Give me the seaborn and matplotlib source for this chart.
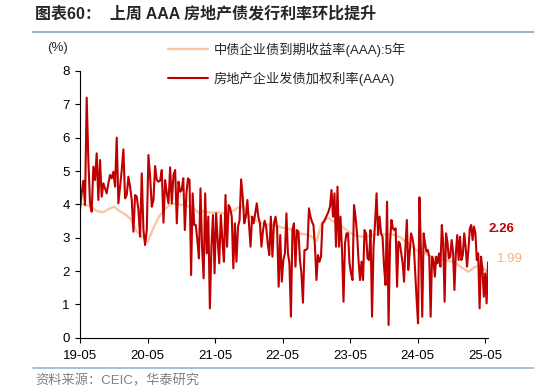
import pandas as pd
import numpy as np
import seaborn as sns
import matplotlib.pyplot as plt
import matplotlib.dates as mdates
from matplotlib.lines import Line2D

# weekly weighted issuance rate of AAA property bonds in four stretches
red_2019_2020 = [3.83, 4.33, 4.71, 3.98, 7.20, 5.33, 4.03, 3.78, 5.13, 4.73, 5.53, 4.13, 5.33, 4.23,
                 4.63, 4.48, 4.33, 4.63, 4.88, 4.78, 4.98, 4.53, 6.00, 4.03, 4.53, 5.03, 5.65, 4.18,
                 4.28, 4.83, 4.53, 4.13, 3.18, 4.28, 4.23, 3.83, 3.03, 4.93, 3.23, 2.78, 3.23, 5.48,
                 4.83, 3.93, 4.13, 5.15, 4.73, 4.68, 4.71, 5.03, 3.45, 4.73, 4.33, 4.03, 5.11, 4.03,
                 4.88, 5.03, 3.43, 4.68, 4.53]
red_2020_2022 = [4.23, 4.43, 4.78, 3.23, 4.33, 4.78, 4.73, 1.88, 4.33, 3.38, 3.38, 2.93, 2.38, 4.48,
                 2.73, 1.78, 4.33, 2.53, 3.63, 0.88, 2.73, 3.68, 1.93, 3.73, 2.93, 2.23, 3.68, 2.93,
                 2.28, 4.28, 2.73, 3.98, 3.88, 3.63, 2.08, 3.43, 2.28, 3.33, 3.53, 4.75, 4.23, 3.43,
                 3.63, 4.13, 3.43, 2.73, 3.63, 3.43, 3.73, 4.03, 3.63, 3.43, 2.73, 3.23, 3.51, 3.33,
                 2.83, 2.48, 3.63, 2.43, 3.43, 3.63, 3.28, 1.53, 3.08, 1.68, 2.33, 2.53]
red_2022_2023 = [2.53, 3.73, 2.53, 2.23, 0.63, 3.23, 3.43, 2.13, 3.23, 3.18, 2.33, 1.93, 1.05, 2.63,
                 2.63, 2.68, 3.88, 3.63, 3.48, 3.38, 2.73, 1.73, 2.48, 2.28, 2.43, 3.43, 3.48, 3.58,
                 3.68, 3.78, 3.93, 4.43, 3.63, 4.33, 2.73, 4.53, 2.73, 3.63, 2.63, 1.08, 2.83, 3.13,
                 3.13, 2.23, 1.93, 1.73, 3.98, 3.63, 3.13, 2.33, 1.73, 2.28, 1.73, 3.23, 3.13, 2.38,
                 2.33, 3.23, 0.63, 2.73, 3.43, 4.33, 3.08, 3.63, 3.13, 3.03, 2.13, 1.58, 4.08, 0.38,
                 2.33]
red_2023_2025 = [3.43, 3.53, 3.28, 3.23, 3.28, 1.53, 2.88, 2.83, 2.53, 2.23, 1.68, 2.73, 3.53, 2.03,
                 2.53, 3.13, 2.98, 2.73, 1.93, 1.13, 0.43, 4.21, 2.73, 0.63, 3.13, 2.83, 2.58, 2.63,
                 2.43, 0.63, 2.43, 2.33, 1.83, 2.43, 2.23, 2.53, 2.13, 3.38, 2.83, 1.08, 3.13, 2.88,
                 2.38, 2.43, 2.93, 2.58, 1.43, 2.53, 3.08, 2.33, 3.03, 2.33, 2.48, 3.13, 2.73, 2.13,
                 2.63, 3.28, 3.38, 2.93, 3.33, 3.13, 2.33, 2.53, 0.88, 2.43, 2.08, 1.23, 1.93, 1.03,
                 2.26]
red_bounds = ["2019-05-01", "2020-10-24", "2022-05-14", "2023-12-04", "2025-05-17"]

# ChinaBond AAA 5y enterprise bond yield, monthly readings plus the last week
orange_vals = [4.03, 3.98, 3.92, 3.80, 3.76, 3.85, 3.93, 3.80, 3.70, 3.55, 3.20, 3.03,
               2.88, 3.28, 3.63, 3.85, 4.00, 4.03, 3.98, 3.95, 3.90, 3.75, 3.80, 3.75,
               3.76, 3.75, 3.70, 3.78, 3.90, 3.95, 3.65, 3.55, 3.45, 3.40, 3.38, 3.35,
               3.30, 3.28, 3.22, 3.13, 3.10, 3.05, 2.90, 3.45, 3.60, 3.48, 3.40, 3.28,
               3.15, 3.07, 3.03, 3.04, 3.07, 3.12, 3.10, 3.10, 3.08, 3.00, 2.86, 2.73,
               2.60, 2.55, 2.47, 2.40, 2.35, 2.33, 2.28, 2.20, 2.08, 1.98, 2.10, 2.18,
               2.03, 1.99]
orange_last_date = "2025-05-17"

labels = ["中债企业债到期收益率(AAA):5年", "房地产企业发债加权利率(AAA)"]
title = "图表60：  上周 AAA 房地产债发行利率环比提升"
source = "资料来源：CEIC，华泰研究"

RED = "#C00000"
ORANGE = "#F8C6A2"
ORANGE_TXT = "#F4B183"
RULE = "#9DB3CC"

# build frames
parts = []
segs = [red_2019_2020, red_2020_2022, red_2022_2023, red_2023_2025]
for seg, a, b in zip(segs, red_bounds[:-1], red_bounds[1:]):
    parts.append(pd.DataFrame({"date": pd.date_range(a, b, periods=len(seg)), "rate": seg}))
red = pd.concat(parts, ignore_index=True)

o_dates = list(pd.date_range("2019-05-01", periods=len(orange_vals) - 1, freq="MS")) + [pd.Timestamp(orange_last_date)]
orange = pd.DataFrame({"date": o_dates, "rate": orange_vals})

sns.set_style("ticks")
plt.rcParams['font.family'] = ['Liberation Sans', 'Noto Sans CJK SC']
plt.rcParams['axes.unicode_minus'] = False

fig = plt.figure(figsize=(5.34, 3.92), dpi=100)
ax = fig.add_axes([80 / 534, 1 - 337.7 / 392, 408 / 534, 266.7 / 392])

sns.lineplot(data=orange, x="date", y="rate", color=ORANGE, lw=1.7, label=labels[0], ax=ax)
sns.lineplot(data=red, x="date", y="rate", color=RED, lw=1.5, label=labels[1], ax=ax)

ax.set_ylim(0, 8)
ax.set_xlim(pd.Timestamp(red_bounds[0]), pd.Timestamp(red_bounds[-1]))
ax.set_xlabel("")
ax.set_ylabel("")
ax.xaxis.set_major_locator(mdates.YearLocator(base=1, month=5, day=1))
ax.xaxis.set_major_formatter(mdates.DateFormatter("%y-%m"))
ax.set_yticks(range(0, 9))
ax.tick_params(axis="both", labelsize=9.5, length=3.5, width=0.8, color="black", labelcolor="black")
ax.tick_params(axis="y", pad=4)
ax.tick_params(axis="x", pad=5)
for s in ["top", "right"]:
    ax.spines[s].set_visible(False)
for s in ["left", "bottom"]:
    ax.spines[s].set_color("black")
    ax.spines[s].set_linewidth(0.8)

ax.legend(loc="upper left", bbox_to_anchor=(168 / 534, 1 - 42 / 392), bbox_transform=fig.transFigure,
          frameon=False, fontsize=9.5, handlelength=3.0, handletextpad=0.45, labelspacing=1.1,
          borderpad=0, borderaxespad=0)

# end labels
ax.annotate(f"{red['rate'].iloc[-1]:.2f}", (red["date"].iloc[-1], red["rate"].iloc[-1]),
            xytext=(0, 33), textcoords="offset pixels", color=RED, fontsize=9.5,
            fontweight="bold", va="center", ha="left")
ax.annotate(f"{orange['rate'].iloc[-1]:.2f}", (orange["date"].iloc[-1], orange["rate"].iloc[-1]),
            xytext=(9, 12), textcoords="offset pixels", color=ORANGE_TXT, fontsize=9.5,
            va="center", ha="left")

fig.text(57 / 534, 1 - 48 / 392, "(%)", fontsize=9.5, ha="center", va="center")
fig.text(35 / 534, 1 - 14 / 392, title, fontsize=11.5, fontweight="bold", va="center", ha="left")
fig.add_artist(Line2D([33 / 534, 1], [1 - 32 / 392] * 2, color=RULE, lw=1.5))
fig.add_artist(Line2D([33 / 534, 1], [1 - 368 / 392] * 2, color=RULE, lw=1.2))
fig.text(35 / 534, 1 - 381 / 392, source, fontsize=9.5, color="#808080", va="center", ha="left")

fig.savefig("out.png", dpi=100)
